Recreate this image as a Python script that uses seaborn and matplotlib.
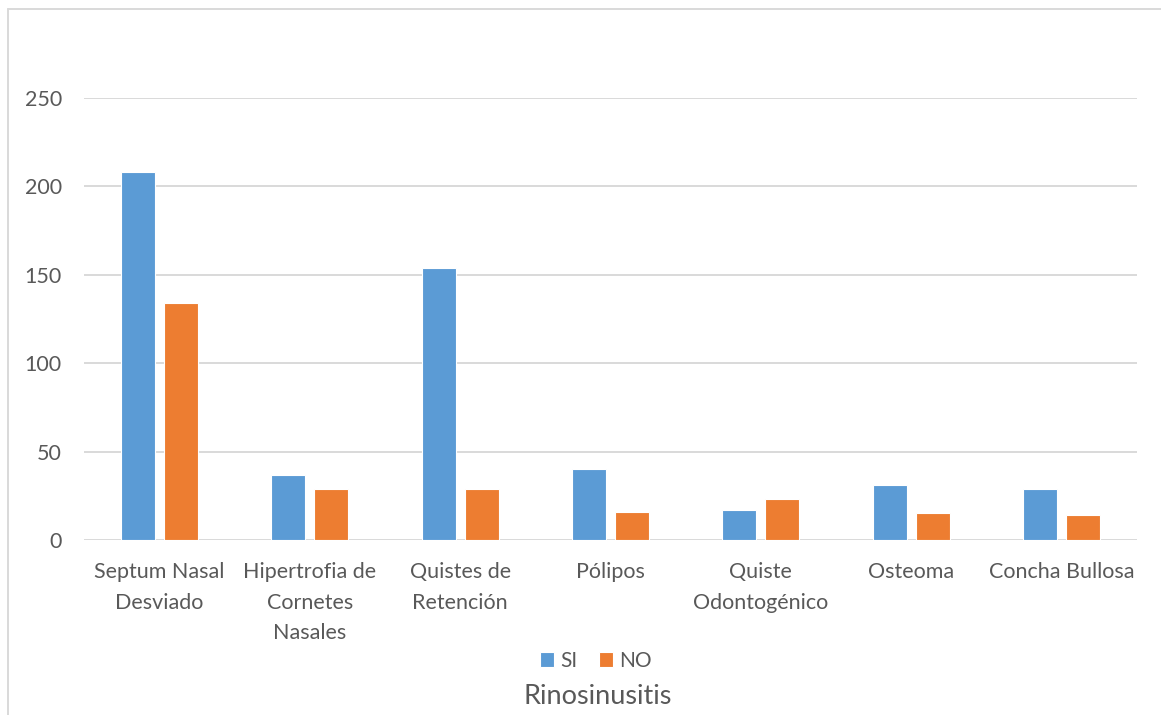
import pandas as pd
import matplotlib.pyplot as plt
import seaborn as sns
from matplotlib.lines import Line2D

# ======= DATA =======
categorias = ["Septum Nasal\nDesviado", "Hipertrofia de\nCornetes\nNasales",
              "Quistes de\nRetención", "Pólipos", "Quiste\nOdontogénico",
              "Osteoma", "Concha Bullosa"]
valores_si = [208, 37, 154, 40, 17, 31, 29]
valores_no = [134, 29, 29, 16, 23, 15, 14]
series = ["SI", "NO"]
y_ticks = [0, 50, 100, 150, 200, 250]
# ====================

df = pd.DataFrame({
    "categoria": categorias * 2,
    "serie": ["SI"] * len(categorias) + ["NO"] * len(categorias),
    "valor": valores_si + valores_no,
})

sns.set_style("white")
plt.rcParams['font.family'] = ['Lato', 'DejaVu Sans']
text_color = "#595959"
grid_color = "#d9d9d9"

fig = plt.figure(figsize=(11.61, 7.15), dpi=100)
ax = fig.add_axes([84 / 1161, 175 / 715, (1137 - 84) / 1161, (540 - 98) / 715])

sns.barplot(
    data=df, x="categoria", y="valor", hue="serie", hue_order=series,
    palette=["#5B9BD5", "#ED7D31"], saturation=1, width=0.572, gap=0.21,
    edgecolor="white", linewidth=0.8, ax=ax,
)

ax.set_ylim(0, 250)
ax.set_xlim(-0.5, len(categorias) - 0.5)
ax.set_yticks(y_ticks)
ax.yaxis.grid(True, color=grid_color, linewidth=1.4)
ax.set_axisbelow(True)
for s in ax.spines.values():
    s.set_visible(False)
ax.tick_params(axis="y", length=0, pad=16, labelsize=15.5, labelcolor=text_color)
ax.tick_params(axis="x", length=0, pad=16, labelsize=15.5, labelcolor=text_color)
for lbl in ax.get_xticklabels():
    lbl.set_linespacing(1.65)
ax.set_ylabel("")
ax.set_xlabel("")

fig.text(598 / 1161, 1 - 697 / 715, "Rinosinusitis", fontsize=19.5, color=text_color,
         ha="center", va="center")

handles, labels = ax.get_legend_handles_labels()
ax.legend(handles, labels, loc="center", bbox_to_anchor=(596 / 1161, 1 - 661 / 715),
          bbox_transform=fig.transFigure, ncol=2, frameon=False,
          fontsize=15, labelcolor=text_color, handlelength=0.7, handleheight=0.7,
          handletextpad=0.3, columnspacing=1.0)

# chart area border (top and left edges visible)
fig.add_artist(Line2D([8 / 1161, 1.0], [1 - 9 / 715, 1 - 9 / 715], color=grid_color, linewidth=1.4))
fig.add_artist(Line2D([8 / 1161, 8 / 1161], [0.0, 1 - 9 / 715], color=grid_color, linewidth=1.4))

plt.savefig("out.png", dpi=100)
